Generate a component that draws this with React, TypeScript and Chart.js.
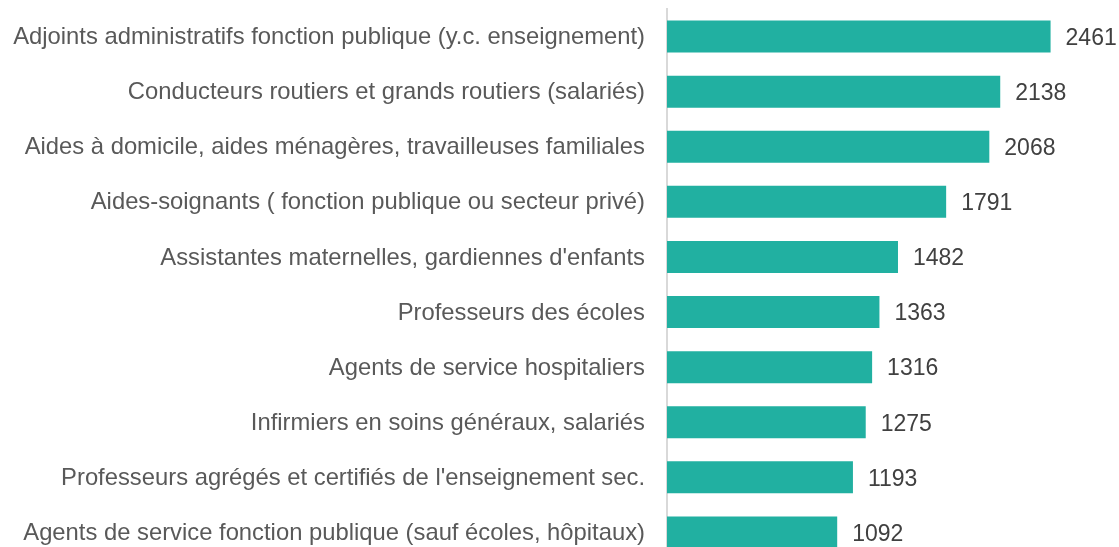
import React, { useEffect, useRef } from "react";
import { Chart, registerables } from "chart.js";

Chart.register(...registerables);

const categories = [
  "Adjoints administratifs fonction publique (y.c. enseignement)",
  "Conducteurs routiers et grands routiers (salariés)",
  "Aides à domicile, aides ménagères, travailleuses familiales",
  "Aides-soignants ( fonction publique ou secteur privé)",
  "Assistantes maternelles, gardiennes d'enfants",
  "Professeurs des écoles",
  "Agents de service hospitaliers",
  "Infirmiers en soins généraux, salariés",
  "Professeurs agrégés et certifiés de l'enseignement sec.",
  "Agents de service fonction publique (sauf écoles, hôpitaux)",
];

const values = [2461, 2138, 2068, 1791, 1482, 1363, 1316, 1275, 1193, 1092];

const FONT = "'Liberation Sans', Arial, sans-serif";

const valueLabels = {
  id: "valueLabels",
  afterDatasetsDraw(chart: any) {
    const ctx = chart.ctx;
    const meta = chart.getDatasetMeta(0);
    ctx.save();
    ctx.font = `23px ${FONT}`;
    ctx.fillStyle = "#404040";
    ctx.textAlign = "left";
    ctx.textBaseline = "middle";
    meta.data.forEach((el: any, i: number) => {
      ctx.fillText(String(values[i]), el.x + 15, el.y + 2);
    });
    ctx.restore();
  },
};

export default function App() {
  const ref = useRef<HTMLCanvasElement>(null);
  useEffect(() => {
    if (!ref.current) return;
    const chart = new Chart(ref.current, {
      type: "bar",
      data: {
        labels: categories,
        datasets: [
          {
            data: values,
            backgroundColor: "#21B0A1",
            borderWidth: 0,
            categoryPercentage: 1,
            barPercentage: 0.58,
          },
        ],
      },
      options: {
        indexAxis: "y",
        animation: false,
        responsive: false,
        maintainAspectRatio: false,
        layout: { padding: { top: 9, right: 0, left: 0, bottom: 2 } },
        plugins: { legend: { display: false }, tooltip: { enabled: false } },
        scales: {
          x: { display: false, min: 0, max: 2900 },
          y: {
            afterFit(scale: any) {
              scale.width = 667;
              scale.paddingTop = 0;
              scale.paddingBottom = 0;
            },
            grid: { display: false, drawTicks: false },
            border: { display: true, color: "#D9D9D9", width: 2 },
            ticks: {
              padding: 22,
              labelOffset: 1,
              color: "#595959",
              font: { family: FONT, size: 23.8 },
            },
          },
        },
      },
      plugins: [valueLabels],
    });
    return () => chart.destroy();
  }, []);
  return (
    <div
      style={{
        position: "fixed",
        left: 0,
        top: 0,
        width: 1119,
        height: 547,
        overflow: "hidden",
        background: "#fff",
      }}
    >
      <canvas ref={ref} width={1119} height={562} style={{ display: "block", width: 1119, height: 562 }} />
    </div>
  );
}
